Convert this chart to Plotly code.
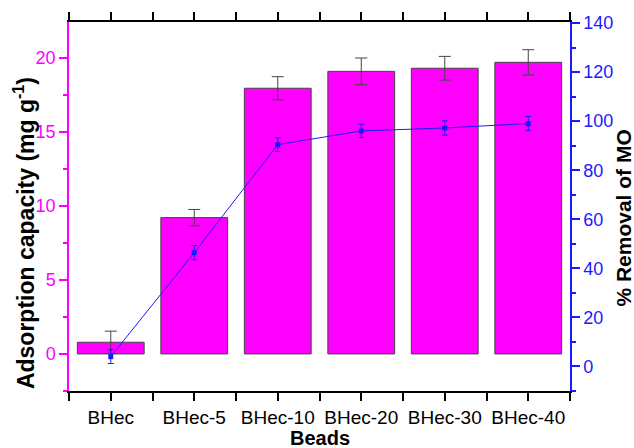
import plotly.graph_objects as go

categories = ["BHec", "BHec-5", "BHec-10", "BHec-20", "BHec-30", "BHec-40"]
capacity = [0.79, 9.2, 17.93, 19.07, 19.28, 19.68]
capacity_err = [0.75, 0.55, 0.78, 0.9, 0.8, 0.85]
removal = [4.0, 46.4, 90.4, 96.0, 97.2, 99.0]
removal_err = [2.8, 2.9, 2.8, 2.7, 2.9, 2.9]

MAG = "#ff00ff"
BLUE = "#1a1aff"
FONT = "Arial, Liberation Sans, sans-serif"

xpos = list(range(len(categories)))
minor_x = [i - 0.5 for i in range(len(categories) + 1)]

fig = go.Figure()
fig.add_trace(go.Bar(
    x=xpos, y=capacity, width=0.8,
    marker=dict(color=MAG, line=dict(color="#444444", width=1)),
    error_y=dict(type="data", array=capacity_err, color="#444444", thickness=1, width=6),
    yaxis="y", xaxis="x", showlegend=False, hoverinfo="skip",
))
fig.add_trace(go.Scatter(
    x=xpos, y=removal, mode="lines+markers",
    line=dict(color=BLUE, width=1),
    marker=dict(symbol="square", size=5, color=BLUE),
    error_y=dict(type="data", array=removal_err, color=BLUE, thickness=1, width=3),
    yaxis="y2", xaxis="x", showlegend=False, hoverinfo="skip",
))

fig.update_layout(
    width=634, height=448,
    margin=dict(l=69, r=64, t=22, b=57),
    paper_bgcolor="white", plot_bgcolor="white",
    xaxis=dict(
        range=[-0.5, 5.5], tickmode="array", tickvals=xpos, ticktext=categories,
        ticks="outside", ticklen=8, tickwidth=1.5, tickcolor="black",
        showline=True, linecolor="black", linewidth=1.5, showgrid=False, zeroline=False,
        mirror="allticks",
        tickfont=dict(family=FONT, size=19, color="black"),
        minor=dict(tickmode="array", tickvals=minor_x, ticks="outside", ticklen=4,
                   tickwidth=1.5, tickcolor="black", showgrid=False),
    ),
    yaxis=dict(
        range=[-2.5, 22.4], tickmode="array", tickvals=[0, 5, 10, 15, 20],
        ticks="outside", ticklen=8, tickwidth=1.5, tickcolor=MAG,
        showline=True, linecolor=MAG, linewidth=1.5, showgrid=False, zeroline=False,
        tickfont=dict(family=FONT, size=18, color=MAG),
        minor=dict(tickmode="array", tickvals=[-2.5, 2.5, 7.5, 12.5, 17.5, 22.5], ticks="outside",
                   ticklen=4, tickwidth=1.5, tickcolor=MAG, showgrid=False),
    ),
    yaxis2=dict(
        range=[-10, 140.4], overlaying="y", side="right", anchor="x",
        tickmode="array", tickvals=[0, 20, 40, 60, 80, 100, 120, 140],
        ticks="outside", ticklen=8, tickwidth=1.5, tickcolor=BLUE,
        showline=True, linecolor=BLUE, linewidth=1.5, showgrid=False, zeroline=False,
        tickfont=dict(family=FONT, size=18, color=BLUE),
        minor=dict(tickmode="array", tickvals=[-10, 10, 30, 50, 70, 90, 110, 130], ticks="outside",
                   ticklen=4, tickwidth=1.5, tickcolor=BLUE, showgrid=False),
    ),
    annotations=[
        dict(text="<b>Adsorption capacity (mg g<sup>-1</sup>)</b>", xref="paper", yref="paper",
             x=-0.0898, y=0.428, xanchor="center", yanchor="middle", textangle=-90,
             showarrow=False, font=dict(family=FONT, size=23, color="black")),
        dict(text="<b>% Removal of MO</b>", xref="paper", yref="paper",
             x=1.106, y=0.4675, xanchor="center", yanchor="middle", textangle=-90,
             showarrow=False, font=dict(family=FONT, size=21, color="black")),
        dict(text="<b>Beads</b>", xref="paper", yref="paper",
             x=0.5, y=-0.127, xanchor="center", yanchor="middle",
             showarrow=False, font=dict(family=FONT, size=20, color="black")),
    ],
)

fig.write_html("out.html", config={"displayModeBar": False},
               post_script="document.body.style.margin='0';")
